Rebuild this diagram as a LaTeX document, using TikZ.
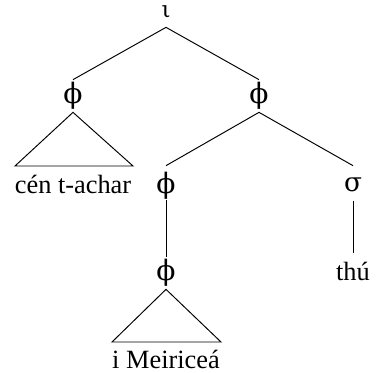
\documentclass[tikz,border=0pt]{standalone}
\usepackage{fontspec}
\setmainfont{Liberation Serif}
\newfontfamily\greekfont{DejaVu Serif}
\usetikzlibrary{positioning}

\begin{document}
\begin{tikzpicture}[x=0.02cm,y=-0.02cm,
  cat/.style={font=\greekfont\fontsize{16}{19}\selectfont,inner sep=0pt,anchor=base},
  word/.style={font=\fontsize{15}{18}\selectfont,inner sep=0pt,anchor=base},
  branch/.style={line width=0.55pt},
]
\useasboundingbox (0,0) rectangle (377,372);

% Categories
\node[cat,font=\greekfont\fontsize{13}{15}\selectfont,text height=0.16cm,text depth=0.2cm] (iota) at (166,17) {ι};
\node[cat,text height=0.46cm,text depth=0.18cm] (phiL) at (73,103) {ϕ};
\node[cat,text height=0.46cm,text depth=0.18cm] (phiR) at (259,103) {ϕ};
\node[cat,text height=0.54cm,text depth=0.14cm] (phiM) at (166,193) {ϕ};
\node[cat,font=\greekfont\fontsize{15}{18}\selectfont,text height=0.5cm,text depth=0.2cm] (sig) at (353,191) {σ};
\node[cat,text height=0.46cm,text depth=0.18cm] (phiB) at (166,280) {ϕ};

% Words
\node[word] (cen) at (73,193) {cén t-achar};
\node[word,text height=0.54cm] (thu) at (353,280) {thú};
\node[word] (mei) at (166,368) {i Meiriceá};

% Triangle base corners
\coordinate (cenL) at (15,166);
\coordinate (cenR) at (133,166);
\coordinate (meiL) at (112,342);
\coordinate (meiR) at (221,342);

% Branches
\draw[branch] (iota.south) -- (phiL.north);
\draw[branch] (iota.south) -- (phiR.north);
\draw[branch] (phiL.south) -- (cenL) -- (cenR) -- cycle;
\draw[branch] (phiR.south) -- (phiM.north);
\draw[branch] (phiR.south) -- (sig.north);
\draw[branch] (phiM.south) -- (phiB.north);
\draw[branch] (sig.south) -- (thu.north);
\draw[branch] (phiB.south) -- (meiL) -- (meiR) -- cycle;

\end{tikzpicture}
\end{document}
